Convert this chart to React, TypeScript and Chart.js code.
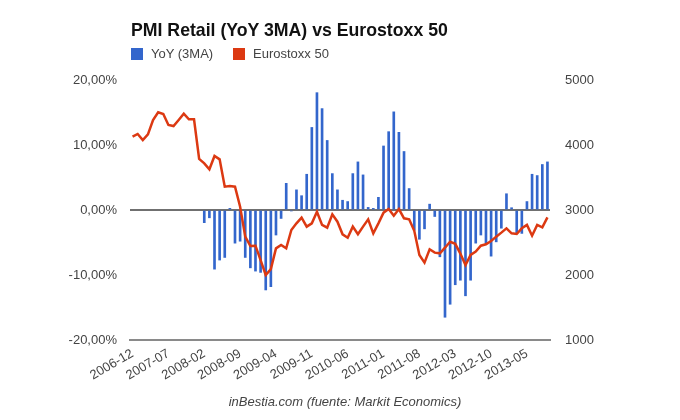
import React, { useEffect, useRef } from "react";
import { Chart, registerables } from "chart.js";

Chart.register(...registerables);

const months: string[] = [
  "2006-12",
  "2007-01", "2007-02", "2007-03", "2007-04", "2007-05", "2007-06", "2007-07", "2007-08", "2007-09", "2007-10", "2007-11", "2007-12",
  "2008-01", "2008-02", "2008-03", "2008-04", "2008-05", "2008-06", "2008-07", "2008-08", "2008-09", "2008-10", "2008-11", "2008-12",
  "2009-01", "2009-02", "2009-03", "2009-04", "2009-05", "2009-06", "2009-07", "2009-08", "2009-09", "2009-10", "2009-11", "2009-12",
  "2010-01", "2010-02", "2010-03", "2010-04", "2010-05", "2010-06", "2010-07", "2010-08", "2010-09", "2010-10", "2010-11", "2010-12",
  "2011-01", "2011-02", "2011-03", "2011-04", "2011-05", "2011-06", "2011-07", "2011-08", "2011-09", "2011-10", "2011-11", "2011-12",
  "2012-01", "2012-02", "2012-03", "2012-04", "2012-05", "2012-06", "2012-07", "2012-08", "2012-09", "2012-10", "2012-11", "2012-12",
  "2013-01", "2013-02", "2013-03", "2013-04", "2013-05", "2013-06", "2013-07", "2013-08", "2013-09",
];

// PMI Retail YoY (3MA), in %
const pmiYoY: (number | null)[] = [
  null, null, null, null, null, null, null, null, null, null, null, null, null, null,
  -1.95, -1.2, -9.1, -7.7, -7.3, 0.25, -5.1, -4.8, -7.3, -8.9, -9.4,
  -9.6, -12.3, -11.8, -3.85, -1.3, 4.1, -0.15, 3.1, 2.2, 5.5, 12.7, 18.05,
  15.6, 10.7, 5.6, 3.1, 1.5, 1.3, 5.6, 7.4, 5.4, 0.4, 0.25, 1.95,
  9.85, 12.05, 15.1, 11.95, 9.0, 3.3, -3.1, -4.5, -2.9, 0.9, -1.0, -7.2,
  -16.5, -14.5, -11.5, -10.8, -13.2, -10.8, -5.1, -3.85, -5.1, -7.1, -4.9, -2.8,
  2.5, 0.35, -3.6, -3.6, 1.3, 5.5, 5.3, 7.0, 7.4,
];

// Eurostoxx 50 index level
const eurostoxx: number[] = [
  4128,
  4169, 4077, 4164, 4385, 4503, 4477, 4308, 4292, 4385, 4482, 4395, 4395,
  3785, 3718, 3626, 3831, 3779, 3359, 3369, 3359, 3051, 2590, 2446, 2451,
  2230, 2000, 2090, 2410, 2462, 2410, 2692, 2795, 2882, 2744, 2795, 2974,
  2770, 2728, 2933, 2820, 2626, 2574, 2744, 2626, 2744, 2856, 2641, 2795,
  2959, 3015, 2913, 3015, 2872, 2856, 2680, 2308, 2190, 2395, 2344, 2333,
  2420, 2512, 2480, 2330, 2154, 2308, 2359, 2451, 2472, 2523, 2590, 2652,
  2718, 2641, 2631, 2718, 2770, 2605, 2770, 2734, 2887,
];

const leftTicks: number[] = [-20, -10, 0, 10, 20];
const rightTicks: number[] = [1000, 2000, 3000, 4000, 5000];

const title = "PMI Retail (YoY 3MA) vs Eurostoxx 50";
const seriesNames: string[] = ["YoY (3MA)", "Eurostoxx 50"];
const seriesColors: string[] = ["#3366cc", "#dc3912"];
const footer = "inBestia.com (fuente: Markit Economics)";

const FONT = "Arial, 'Liberation Sans', sans-serif";

export default function App() {
  const ref = useRef<HTMLCanvasElement | null>(null);

  useEffect(() => {
    if (!ref.current) return;
    const chart = new Chart(ref.current, {
      type: "bar",
      data: {
        labels: months,
        datasets: [
          {
            type: "line",
            label: seriesNames[1],
            data: eurostoxx,
            yAxisID: "y1",
            borderColor: seriesColors[1],
            backgroundColor: seriesColors[1],
            borderWidth: 2.5,
            pointRadius: 0,
            tension: 0,
            order: 0,
          } as any,
          {
            type: "bar",
            label: seriesNames[0],
            data: pmiYoY,
            yAxisID: "y",
            backgroundColor: seriesColors[0],
            borderWidth: 0,
            barThickness: 2,
            order: 1,
          } as any,
        ],
      },
      options: {
        responsive: false,
        devicePixelRatio: 1,
        animation: false,
        layout: { padding: { top: 80, left: 0, right: 0, bottom: 0 } },
        plugins: {
          legend: { display: false },
          title: { display: false },
          tooltip: { enabled: false },
        },
        scales: {
          x: {
            type: "category",
            offset: true,
            grid: { display: false, drawTicks: false },
            border: { display: true, color: "#8a8a8a", width: 2 },
            ticks: {
              autoSkip: false,
              minRotation: 30,
              maxRotation: 30,
              padding: 6,
              color: "#444",
              font: { family: FONT, size: 13 },
              callback: (_v: any, i: number) => (i % 7 === 0 ? months[i] : ""),
            },
            afterFit: (s: any) => {
              s.height = 80;
            },
          },
          y: {
            position: "left",
            min: -20,
            max: 20,
            afterBuildTicks: (s: any) => {
              s.ticks = leftTicks.map((v) => ({ value: v }));
            },
            grid: {
              drawTicks: false,
              color: (ctx: any) => (ctx.tick && ctx.tick.value === 0 ? "#707070" : "rgba(0,0,0,0)"),
              lineWidth: (ctx: any) => (ctx.tick && ctx.tick.value === 0 ? 2 : 0),
            },
            border: { display: false },
            ticks: {
              padding: 13,
              color: "#444",
              font: { family: FONT, size: 13 },
              callback: (v: any) => Number(v).toFixed(2).replace(".", ",") + "%",
            },
            afterFit: (s: any) => {
              s.width = 130;
            },
          },
          y1: {
            position: "right",
            min: 1000,
            max: 5000,
            afterBuildTicks: (s: any) => {
              s.ticks = rightTicks.map((v) => ({ value: v }));
            },
            grid: { display: false, drawTicks: false },
            border: { display: false },
            ticks: {
              padding: 15,
              color: "#444",
              font: { family: FONT, size: 13 },
              callback: (v: any) => String(v),
            },
            afterFit: (s: any) => {
              s.width = 130;
            },
          },
        },
      },
    });
    return () => chart.destroy();
  }, []);

  const legendItem = (i: number, left: number) => (
    <div
      key={i}
      style={{ position: "absolute", left, top: 47, height: 14, display: "flex", alignItems: "center" }}
    >
      <span style={{ display: "inline-block", width: 12, height: 12, background: seriesColors[i], marginRight: 8 }} />
      <span style={{ fontFamily: FONT, fontSize: 13, color: "#444", lineHeight: "14px" }}>{seriesNames[i]}</span>
    </div>
  );

  return (
    <div style={{ position: "fixed", left: 0, top: 0, width: 680, height: 420, background: "#fff", overflow: "hidden" }}>
      <canvas ref={ref} width={680} height={420} style={{ position: "absolute", left: 0, top: 0, width: 680, height: 420 }} />
      <div
        style={{
          position: "absolute",
          left: 131,
          top: 19,
          fontFamily: FONT,
          fontWeight: "bold",
          fontSize: 17.7,
          color: "#111",
          whiteSpace: "nowrap",
          lineHeight: "22px",
        }}
      >
        {title}
      </div>
      {legendItem(0, 131)}
      {legendItem(1, 233)}
      <div
        style={{
          position: "absolute",
          left: 0,
          width: 690,
          top: 394,
          textAlign: "center",
          fontFamily: FONT,
          fontStyle: "italic",
          fontSize: 13,
          color: "#444",
          whiteSpace: "nowrap",
        }}
      >
        {footer}
      </div>
    </div>
  );
}
